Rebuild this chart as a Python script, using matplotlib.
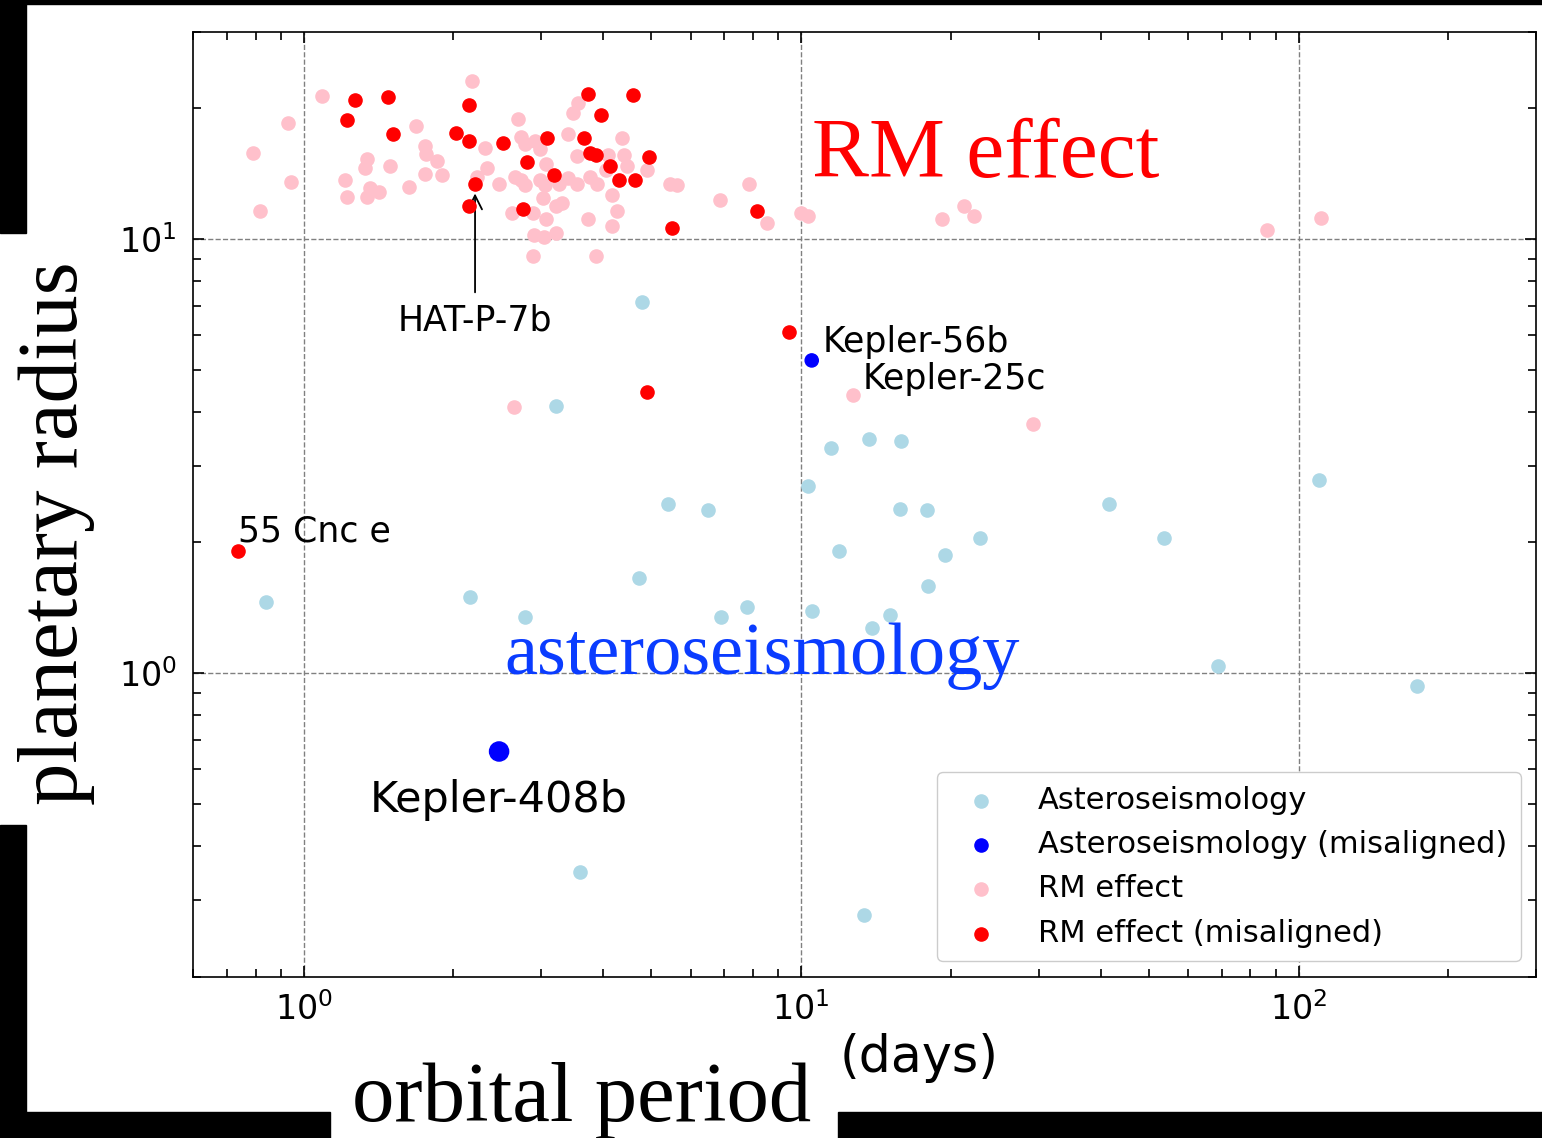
import numpy as np
import matplotlib
matplotlib.use("Agg")
import matplotlib.pyplot as plt
from matplotlib.patches import Rectangle

# orbital period (days) and planetary radius (Earth radii)
astero_period = [4.78, 3.21, 0.84, 2.16, 2.79, 4.73, 5.40, 6.49, 6.89, 7.77,
                 10.3, 10.5, 11.5, 11.9, 13.7, 13.9, 15.1, 15.9, 15.8, 17.9,
                 18.0, 19.5, 22.9, 41.5, 53.5, 68.9, 110, 173, 3.60, 13.4]
astero_radius = [7.14, 4.12, 1.46, 1.50, 1.35, 1.66, 2.45, 2.38, 1.35, 1.42,
                 2.70, 1.39, 3.30, 1.91, 3.46, 1.27, 1.36, 3.43, 2.39, 2.38,
                 1.59, 1.87, 2.05, 2.45, 2.05, 1.04, 2.79, 0.932, 0.348, 0.277]

astero_mis_name = ["Kepler-56b", "Kepler-408b"]
astero_mis_period = [10.5, 2.47]
astero_mis_radius = [5.25, 0.66]

rm_period = [1.09, 0.928, 0.791, 0.943, 0.815, 1.68, 1.34, 1.33, 1.49, 1.21,
             1.22, 1.36, 1.34, 1.42, 1.63, 1.75, 1.76, 1.85, 1.75, 1.90,
             2.18, 2.31, 2.34, 2.23, 2.47, 2.70, 2.73, 2.79, 2.92, 2.99,
             3.07, 2.66, 2.74, 2.79, 2.99, 3.05, 3.03, 2.62, 2.89, 3.07,
             3.22, 3.31, 3.26, 3.40, 3.54, 3.40, 3.48, 3.56, 3.54, 3.76,
             3.88, 4.06, 4.09, 4.36, 4.40, 4.46, 4.16, 4.26, 4.16, 3.72,
             2.90, 3.04, 3.21, 2.89, 3.87, 4.90, 5.44, 5.63, 7.86, 6.87,
             8.53, 10.0, 10.3, 19.2, 21.2, 22.3, 86.4, 111, 12.7, 2.65, 29.2]
rm_radius = [21.3, 18.5, 15.8, 13.5, 11.6, 18.2, 15.3, 14.6, 14.7, 13.7,
             12.5, 13.1, 12.5, 12.8, 13.2, 16.4, 15.7, 15.1, 14.1, 14.0,
             23.1, 16.2, 14.6, 13.9, 13.4, 18.9, 17.2, 16.5, 16.8, 16.1,
             14.9, 13.9, 13.7, 13.3, 13.7, 13.3, 12.4, 11.5, 11.5, 11.1,
             11.9, 12.1, 13.4, 13.8, 13.4, 17.4, 19.5, 20.6, 15.5, 13.9,
             13.4, 14.4, 15.6, 17.1, 15.6, 14.7, 12.6, 11.6, 10.7, 11.1,
             10.2, 10.1, 10.3, 9.11, 9.11, 14.4, 13.4, 13.3, 13.4, 12.3,
             10.9, 11.5, 11.3, 11.1, 11.9, 11.3, 10.5, 11.2, 4.37, 4.10, 3.75]

rm_mis_period = [0.738, 9.44, 4.89, 1.27, 1.48, 1.22, 1.51, 2.15, 2.02, 2.15,
                 2.21, 2.15, 2.52, 3.08, 2.81, 3.19, 2.76, 3.73, 3.95, 4.59,
                 3.66, 3.76, 3.87, 4.13, 4.31, 4.63, 4.95, 5.51, 8.15]
rm_mis_radius = [1.91, 6.10, 4.44, 20.9, 21.2, 18.8, 17.4, 20.3, 17.5, 16.8,
                 13.4, 11.9, 16.6, 17.1, 15.0, 14.0, 11.7, 21.6, 19.3, 21.5,
                 17.1, 15.8, 15.6, 14.7, 13.7, 13.7, 15.4, 10.6, 11.6]

plt.rcParams["font.family"] = "DejaVu Sans"
serif = "Liberation Serif"

fig = plt.figure(figsize=(15.42, 11.38), dpi=100)
ax = fig.add_axes([0.1254, 0.1418, 0.8707, 0.8303])

ax.scatter(astero_period, astero_radius, s=90, color="lightblue",
           label="Asteroseismology", zorder=3)
ax.scatter(astero_mis_period, astero_mis_radius, s=[90, 190], color="blue",
           label="Asteroseismology (misaligned)", zorder=3)
ax.scatter(rm_period, rm_radius, s=90, color="pink", label="RM effect", zorder=3)
ax.scatter(rm_mis_period, rm_mis_radius, s=90, color="red",
           label="RM effect (misaligned)", zorder=4)

ax.set_xscale("log")
ax.set_yscale("log")
ax.set_xlim(0.6, 300)
ax.set_ylim(0.2, 30)
ax.grid(True, which="major", linestyle="--", color="gray", linewidth=1.0)
ax.tick_params(which="both", direction="in", top=True, right=True,
               labelsize=24, width=1.2)
ax.tick_params(axis="x", which="both", pad=11)
ax.tick_params(axis="y", which="both", pad=12)
ax.tick_params(which="major", length=8)
ax.tick_params(which="minor", length=6)
for sp in ax.spines.values():
    sp.set_linewidth(1.2)

# named planets
ax.annotate("HAT-P-7b", xy=(2.21, 13.4), xytext=(2.21, 6.49),
            ha="center", va="center", fontsize=25,
            arrowprops=dict(arrowstyle="->", color="black", lw=1.3,
                            shrinkA=6, shrinkB=7))
ax.annotate("Kepler-56b", xy=(astero_mis_period[0], astero_mis_radius[0]),
            xytext=(7.7, 5.8), textcoords="offset points", fontsize=25)
ax.annotate("Kepler-25c", xy=(12.7, 4.37), xytext=(7.2, 4.3),
            textcoords="offset points", fontsize=25)
ax.annotate("55 Cnc e", xy=(rm_mis_period[0], rm_mis_radius[0]),
            xytext=(0.0, 6.7), textcoords="offset points", fontsize=25)
ax.annotate("Kepler-408b", xy=(astero_mis_period[1], astero_mis_radius[1]),
            xytext=(0, -43.7), textcoords="offset points", ha="center",
            fontsize=31)

ax.text(0.4608, 0.8462, "RM effect", transform=ax.transAxes, color="red",
        family=serif, fontsize=61.5, va="baseline")
ax.text(0.2315, 0.3203, "asteroseismology", transform=ax.transAxes,
        color="#0a3cff", family=serif, fontsize=53.5, va="baseline")

leg = ax.legend(loc="lower right", fontsize=22, scatterpoints=1,
                handletextpad=0.86, labelspacing=0.5, borderpad=0.45,
                fancybox=True, edgecolor="#cccccc", framealpha=1.0)
for h in leg.legend_handles:
    h.set_sizes([90])

# axis titles
fig.text(0.3774, 0.0149, "orbital period", family=serif, fontsize=61,
         ha="center", va="baseline")
fig.text(0.5960, 0.0703, "(days)", fontsize=36.5, ha="center", va="center")
fig.text(0.0365, 0.5316, "planetary radius", family=serif, fontsize=61,
         rotation=90, ha="center", va="center")

# black frame pieces around the slide
W, H = 1542.0, 1138.0
bars = [(0, 0, W, 4), (0, 0, 26, 232.7), (0, 825, 26, H - 825),
        (0, 1112, 330, H - 1112), (838, 1112, W - 838, H - 1112)]
for x0, y0, w, h in bars:
    fig.patches.append(Rectangle((x0 / W, 1 - (y0 + h) / H), w / W, h / H,
                                 transform=fig.transFigure, color="black",
                                 zorder=10))

fig.savefig("out.png", dpi=100)
